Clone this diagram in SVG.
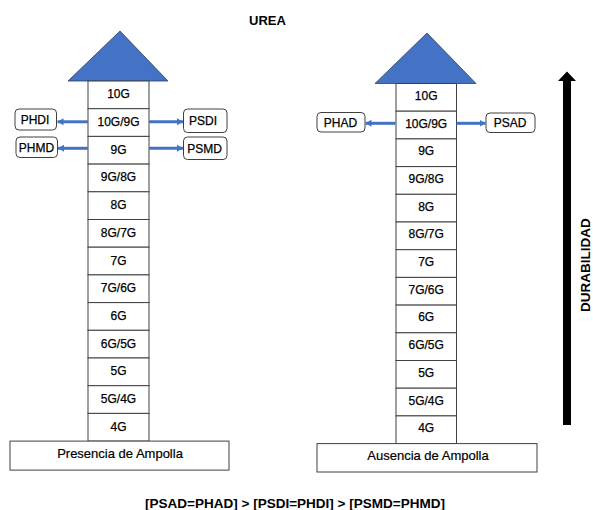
<svg xmlns="http://www.w3.org/2000/svg" width="593" height="510" viewBox="0 0 593 510">
  <defs>
    <style>
      .cell { fill: #ffffff; stroke: #404040; stroke-width: 1; }
      .cap { fill: #4472c4; stroke: #2f3f5f; stroke-width: 0.8; }
      .tag { fill: #ffffff; stroke: #404040; stroke-width: 1; }
      .lbl { font-family: "Liberation Sans", Arial, sans-serif; font-size: 12px; fill: #000; stroke: #000; stroke-width: 0.25; text-anchor: middle; }
      .base { font-family: "Liberation Sans", Arial, sans-serif; font-size: 13px; fill: #000; stroke: #000; stroke-width: 0.2; text-anchor: middle; }
      .head { font-family: "Liberation Sans", Arial, sans-serif; font-weight: bold; fill: #000; }
      .link { stroke: #4472c4; stroke-width: 3; fill: none; marker-end: url(#tip); }
    </style>
    <marker id="tip" markerUnits="userSpaceOnUse" markerWidth="7" markerHeight="8" refX="6" refY="4" orient="auto">
      <path d="M0,0.5 L6,4 L0,7.5 Z" fill="#4472c4"/>
    </marker>
  </defs>

  <rect width="593" height="510" fill="#ffffff"/>

  <!-- title -->
  <text class="head" x="249" y="25" font-size="13">UREA</text>

  <!-- left column: with blister -->
  <g id="col-presencia">
    <polygon class="cap" points="120,31 68,81 168,81"/>
    <g id="p-10G"><rect class="cell" x="88" y="81" width="61" height="27.7"/><text class="lbl" x="118.5" y="98.3">10G</text></g>
    <g id="p-10G9G"><rect class="cell" x="88" y="108.7" width="61" height="27.7"/><text class="lbl" x="118.5" y="126">10G/9G</text></g>
    <g id="p-9G"><rect class="cell" x="88" y="136.4" width="61" height="27.7"/><text class="lbl" x="118.5" y="153.7">9G</text></g>
    <g id="p-9G8G"><rect class="cell" x="88" y="164.1" width="61" height="27.7"/><text class="lbl" x="118.5" y="181.4">9G/8G</text></g>
    <g id="p-8G"><rect class="cell" x="88" y="191.8" width="61" height="27.7"/><text class="lbl" x="118.5" y="209.1">8G</text></g>
    <g id="p-8G7G"><rect class="cell" x="88" y="219.5" width="61" height="27.7"/><text class="lbl" x="118.5" y="236.8">8G/7G</text></g>
    <g id="p-7G"><rect class="cell" x="88" y="247.2" width="61" height="27.7"/><text class="lbl" x="118.5" y="264.5">7G</text></g>
    <g id="p-7G6G"><rect class="cell" x="88" y="274.9" width="61" height="27.7"/><text class="lbl" x="118.5" y="292.2">7G/6G</text></g>
    <g id="p-6G"><rect class="cell" x="88" y="302.6" width="61" height="27.7"/><text class="lbl" x="118.5" y="319.9">6G</text></g>
    <g id="p-6G5G"><rect class="cell" x="88" y="330.3" width="61" height="27.7"/><text class="lbl" x="118.5" y="347.6">6G/5G</text></g>
    <g id="p-5G"><rect class="cell" x="88" y="358" width="61" height="27.7"/><text class="lbl" x="118.5" y="375.3">5G</text></g>
    <g id="p-5G4G"><rect class="cell" x="88" y="385.7" width="61" height="27.7"/><text class="lbl" x="118.5" y="403">5G/4G</text></g>
    <g id="p-4G"><rect class="cell" x="88" y="413.4" width="61" height="27.7"/><text class="lbl" x="118.5" y="430.7">4G</text></g>
    <g id="p-base"><rect class="cell" x="10" y="441.1" width="219" height="29"/><text class="base" x="120" y="458">Presencia de Ampolla</text></g>
  </g>

  <!-- right column: without blister -->
  <g id="col-ausencia">
    <polygon class="cap" points="427,33 375,83.5 476,83.5"/>
    <g id="a-10G"><rect class="cell" x="396" y="83.5" width="60.5" height="27.7"/><text class="lbl" x="426.2" y="99.8">10G</text></g>
    <g id="a-10G9G"><rect class="cell" x="396" y="111.2" width="60.5" height="27.7"/><text class="lbl" x="426.2" y="127.5">10G/9G</text></g>
    <g id="a-9G"><rect class="cell" x="396" y="138.9" width="60.5" height="27.7"/><text class="lbl" x="426.2" y="155.2">9G</text></g>
    <g id="a-9G8G"><rect class="cell" x="396" y="166.6" width="60.5" height="27.7"/><text class="lbl" x="426.2" y="182.9">9G/8G</text></g>
    <g id="a-8G"><rect class="cell" x="396" y="194.3" width="60.5" height="27.7"/><text class="lbl" x="426.2" y="210.6">8G</text></g>
    <g id="a-8G7G"><rect class="cell" x="396" y="222" width="60.5" height="27.7"/><text class="lbl" x="426.2" y="238.3">8G/7G</text></g>
    <g id="a-7G"><rect class="cell" x="396" y="249.7" width="60.5" height="27.7"/><text class="lbl" x="426.2" y="266">7G</text></g>
    <g id="a-7G6G"><rect class="cell" x="396" y="277.4" width="60.5" height="27.7"/><text class="lbl" x="426.2" y="293.7">7G/6G</text></g>
    <g id="a-6G"><rect class="cell" x="396" y="305.1" width="60.5" height="27.7"/><text class="lbl" x="426.2" y="321.4">6G</text></g>
    <g id="a-6G5G"><rect class="cell" x="396" y="332.8" width="60.5" height="27.7"/><text class="lbl" x="426.2" y="349.1">6G/5G</text></g>
    <g id="a-5G"><rect class="cell" x="396" y="360.5" width="60.5" height="27.7"/><text class="lbl" x="426.2" y="376.8">5G</text></g>
    <g id="a-5G4G"><rect class="cell" x="396" y="388.2" width="60.5" height="27.7"/><text class="lbl" x="426.2" y="404.5">5G/4G</text></g>
    <g id="a-4G"><rect class="cell" x="396" y="415.9" width="60.5" height="27.7"/><text class="lbl" x="426.2" y="432.2">4G</text></g>
    <g id="a-base"><rect class="cell" x="317" y="443.6" width="220" height="28.4"/><text class="base" x="428" y="460">Ausencia de Ampolla</text></g>
  </g>

  <!-- side tags -->
  <g id="PHDI"><rect class="tag" x="15" y="109" width="41.5" height="21" rx="4"/><text class="lbl" x="35" y="124">PHDI</text></g>
  <g id="PHMD"><rect class="tag" x="16" y="137" width="41.5" height="20.5" rx="4"/><text class="lbl" x="36.5" y="151.5">PHMD</text></g>
  <g id="PSDI"><rect class="tag" x="183.5" y="109" width="43.5" height="23.5" rx="4"/><text class="lbl" x="203" y="125">PSDI</text></g>
  <g id="PSMD"><rect class="tag" x="183.5" y="137" width="43.5" height="22.5" rx="4"/><text class="lbl" x="204.5" y="152.5">PSMD</text></g>
  <g id="PHAD"><rect class="tag" x="317" y="112.5" width="48" height="19.5" rx="4"/><text class="lbl" x="340.5" y="126.5">PHAD</text></g>
  <g id="PSAD"><rect class="tag" x="486" y="113" width="49" height="19.5" rx="4"/><text class="lbl" x="510" y="127">PSAD</text></g>

  <!-- connectors -->
  <g id="connectors">
    <line class="link" x1="88" y1="121.8" x2="57.5" y2="121.8"/>
    <line class="link" x1="88" y1="148.3" x2="58" y2="148.3"/>
    <line class="link" x1="149" y1="121.8" x2="183" y2="121.8"/>
    <line class="link" x1="149" y1="148.3" x2="183" y2="148.3"/>
    <line class="link" x1="395.5" y1="123.3" x2="365.5" y2="123.3"/>
    <line class="link" x1="456.5" y1="123.3" x2="485.5" y2="123.3"/>
  </g>

  <!-- durability axis -->
  <g id="durabilidad">
    <polygon points="567,71.5 576,81 571,81 571,425 563,425 563,81 558,81" fill="#000"/>
    <text class="head" font-size="13.5" text-anchor="middle" transform="translate(590,265) rotate(-90)">DURABILIDAD</text>
  </g>

  <!-- ranking -->
  <text class="head" x="145" y="507.5" font-size="13.5" textLength="300" lengthAdjust="spacingAndGlyphs">[PSAD=PHAD] &gt; [PSDI=PHDI] &gt; [PSMD=PHMD]</text>
</svg>
